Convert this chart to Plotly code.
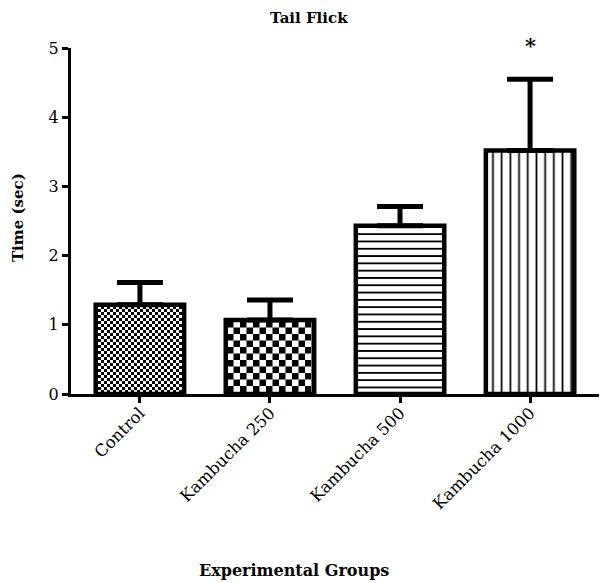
import plotly.graph_objects as go

categories = ["Control", "Kambucha 250", "Kambucha 500", "Kambucha 1000"]
means = [1.29, 1.07, 2.43, 3.52]
sem = [0.32, 0.29, 0.28, 1.03]
significance = ["", "", "", "*"]
y_ticks = [0, 1, 2, 3, 4, 5]

FONT = "DejaVu Serif"

fig = go.Figure()
fig.add_trace(go.Bar(
    x=categories, y=means,
    marker=dict(
        color="white",
        line=dict(color="black", width=4.5),
        pattern=dict(shape=["+", "+", "-", "|"], size=[6, 13, 7.3, 8.7],
                     solidity=[0.5, 0.5, 0.25, 0.2], fgcolor="black", bgcolor="white",
                     fillmode="replace"),
    ),
    error_y=dict(type="data", symmetric=False, array=sem, arrayminus=[0] * len(sem),
                 color="black", thickness=5, width=23),
    width=0.68,
))

for c, m, s, t in zip(categories, means, sem, significance):
    if t:
        fig.add_annotation(x=c, y=m + s, text="<b>" + t + "</b>", showarrow=False, yshift=34,
                           xanchor="center", yanchor="middle",
                           font=dict(family=FONT, size=21, color="black"))

fig.add_annotation(xref="paper", yref="paper", x=0.422, y=-0.511, text="<b>Experimental Groups</b>",
                   xanchor="center", yanchor="middle",
                   showarrow=False, font=dict(family=FONT, size=16, color="black"))
fig.add_annotation(xref="paper", yref="paper", x=-0.1, y=0.509, text="<b>Time (sec)</b>",
                   xanchor="center", yanchor="middle",
                   textangle=-90, showarrow=False, font=dict(family=FONT, size=15, color="black"))

fig.update_layout(
    width=603, height=583,
    margin=dict(l=71, r=4, t=48, b=189),
    paper_bgcolor="white", plot_bgcolor="white",
    showlegend=False,
    title=dict(text="<b>Tail Flick</b>", x=0.512, xanchor="center", y=0.969, yanchor="middle",
               yref="container", font=dict(family=FONT, size=15, color="black")),
    xaxis=dict(range=[-0.53, 3.53], showline=True, linecolor="black", linewidth=3,
               ticks="outside", ticklen=6, tickwidth=3, tickcolor="black",
               tickangle=-45, tickfont=dict(family=FONT, size=16.5, color="black"),
               ticklabelstandoff=-6,
               showgrid=False, zeroline=False, automargin=False),
    yaxis=dict(range=[0, 5], tickvals=y_ticks, showline=True, linecolor="black", linewidth=3,
               ticks="outside", ticklen=6, tickwidth=3, tickcolor="black",
               tickfont=dict(family=FONT, size=16, color="black"),
               showgrid=False, zeroline=False, automargin=False),
)

post = r"""
document.body.style.margin = '0';
var gd = document.getElementById('{plot_id}');
var svg = gd.querySelector('svg.main-svg');
var ns = 'http://www.w3.org/2000/svg';
var defs = svg.querySelector('defs');
function mk(id, c) {
  var p = document.createElementNS(ns, 'pattern');
  p.setAttribute('id', id);
  p.setAttribute('patternUnits', 'userSpaceOnUse');
  p.setAttribute('width', 2 * c); p.setAttribute('height', 2 * c);
  var r = document.createElementNS(ns, 'rect');
  r.setAttribute('width', 2 * c); r.setAttribute('height', 2 * c); r.setAttribute('fill', '#fff');
  p.appendChild(r);
  [[0, 0], [c, c]].forEach(function (o) {
    var q = document.createElementNS(ns, 'rect');
    q.setAttribute('x', o[0]); q.setAttribute('y', o[1]);
    q.setAttribute('width', c); q.setAttribute('height', c); q.setAttribute('fill', '#000');
    p.appendChild(q);
  });
  defs.appendChild(p);
}
mk('chkSmall', 3); mk('chkLarge', 6.5);
var pts = gd.querySelectorAll('.barlayer .trace .point path');
if (pts.length >= 2) {
  pts[0].style.fill = 'url(#chkSmall)';
  pts[1].style.fill = 'url(#chkLarge)';
}
"""

fig.write_html("out.html", post_script=post, config={"displayModeBar": False})
